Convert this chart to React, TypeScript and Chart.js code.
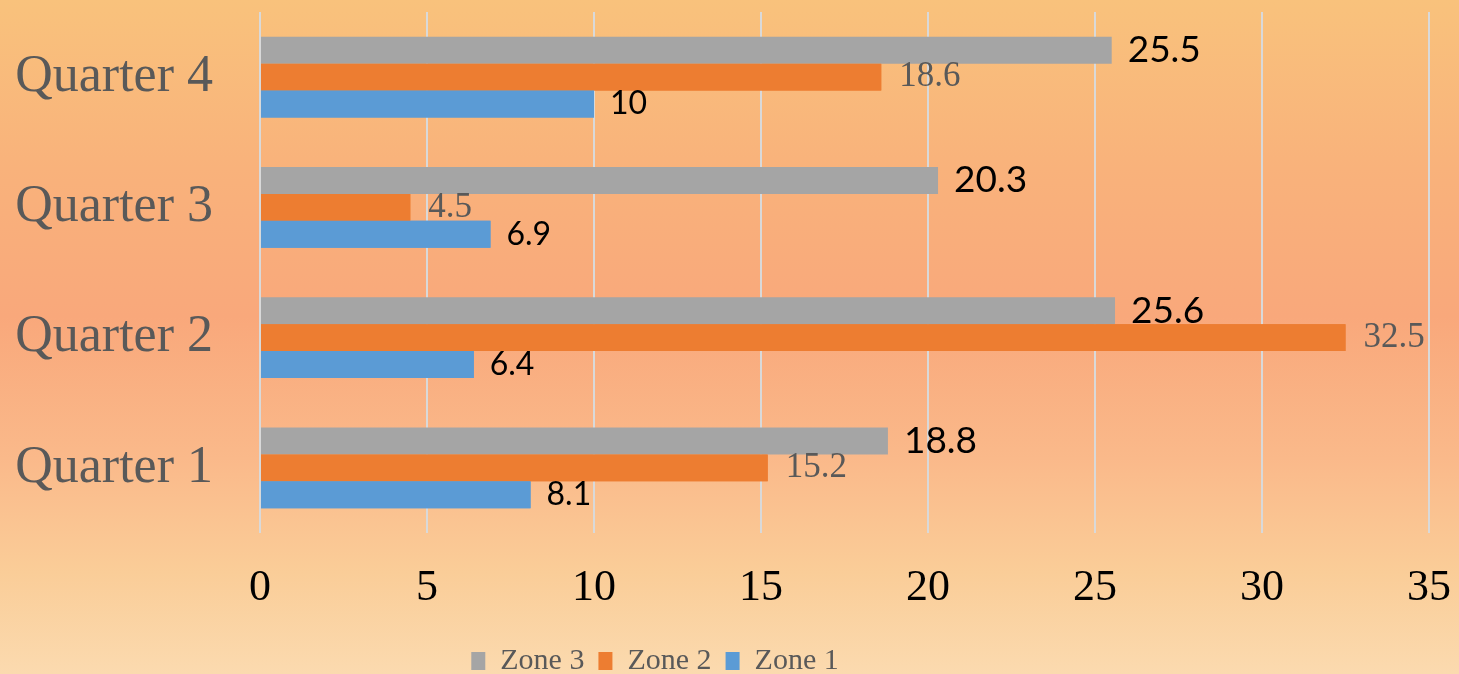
import React, { useEffect, useRef } from "react";
import { Chart, registerables } from "chart.js";

Chart.register(...registerables);

// ---- data ----
const categories = ["Quarter 1", "Quarter 2", "Quarter 3", "Quarter 4"];
const zone1 = [8.1, 6.4, 6.9, 10];
const zone2 = [15.2, 32.5, 4.5, 18.6];
const zone3 = [18.8, 25.6, 20.3, 25.5];
const seriesNames = ["Zone 3", "Zone 2", "Zone 1"];
const xMin = 0;
const xMax = 35;
const xStep = 5;

const COLORS = ["#A5A5A5", "#ED7D31", "#5B9BD5"];
const LABEL_STYLES = [
  { font: "37px Lato", color: "#000000", offset: 16 },
  { font: '35px "Liberation Serif"', color: "#595959", offset: 18 },
  { font: "32px Lato", color: "#000000", offset: 16 },
];

const W = 1459;
const H = 686;

const valueLabels = {
  id: "valueLabels",
  afterDatasetsDraw(chart: any) {
    const ctx = chart.ctx;
    chart.data.datasets.forEach((ds: any, i: number) => {
      const meta = chart.getDatasetMeta(i);
      const st = LABEL_STYLES[i];
      ctx.save();
      if (i > 0) meta.data.forEach((el: any) => el.draw(ctx));
      ctx.font = st.font;
      ctx.fillStyle = st.color;
      ctx.textAlign = "left";
      ctx.textBaseline = "middle";
      meta.data.forEach((el: any, j: number) => {
        ctx.fillText(String(ds.data[j]), el.x + st.offset, el.y);
      });
      ctx.restore();
    });
  },
};

const legendShift = {
  id: "legendShift",
  afterLayout(chart: any) {
    const lg = chart.legend;
    if (!lg) return;
    const shift = (lg.left + lg.right) / 2 - 655;
    lg.left -= shift;
    lg.right -= shift;
  },
};

export default function App() {
  const ref = useRef<HTMLCanvasElement>(null);
  useEffect(() => {
    if (!ref.current) return;
    const rev = (a: any[]) => [...a].reverse();
    const seriesData = [zone3, zone2, zone1];
    const chart = new Chart(ref.current, {
      type: "bar",
      data: {
        labels: rev(categories),
        datasets: seriesNames.map((name, i) => ({
          label: name,
          data: rev(seriesData[i]),
          backgroundColor: COLORS[i],
          borderWidth: 0,
          categoryPercentage: 0.62,
          barPercentage: 1.0,
        })),
      },
      options: {
        indexAxis: "y",
        responsive: false,
        animation: false,
        layout: { padding: { top: 12, right: 30, left: 0, bottom: 0 } },
        scales: {
          x: {
            min: xMin,
            max: xMax,
            ticks: {
              stepSize: xStep,
              padding: 29,
              maxRotation: 0,
              color: "#000000",
              font: { family: '"Liberation Serif"', size: 44 },
            },
            grid: { color: "#D9D9D9", lineWidth: 2, drawTicks: false },
            border: { display: false },
            afterFit: (s: any) => {
              s.height = 99;
              s.paddingLeft = 0;
              s.paddingRight = 0;
            },
          },
          y: {
            ticks: {
              padding: 47,
              color: "#595959",
              font: { family: '"Liberation Serif"', size: 52 },
            },
            grid: { display: false, drawTicks: false },
            border: { display: false },
            afterFit: (s: any) => {
              s.width = 260;
              s.paddingTop = 0;
              s.paddingBottom = 0;
            },
          },
        },
        plugins: {
          legend: {
            position: "bottom",
            labels: {
              boxWidth: 14,
              boxHeight: 18,
              padding: 14,
              color: "#595959",
              font: { family: '"Liberation Serif"', size: 30 },
            },
          },
          tooltip: { enabled: false },
        },
      },
      plugins: [valueLabels, legendShift],
    });
    return () => chart.destroy();
  }, []);

  return (
    <div
      style={{
        position: "fixed",
        left: 0,
        top: 0,
        width: W,
        height: 674,
        overflow: "hidden",
        background:
          "linear-gradient(to bottom, #F9C27C 0%, #F9B27B 25%, #F9A87B 47%, #FAB98A 68%, #FACD98 85%, #FBDAAF 100%)",
      }}
    >
      <canvas ref={ref} width={W} height={H} style={{ display: "block" }} />
    </div>
  );
}
